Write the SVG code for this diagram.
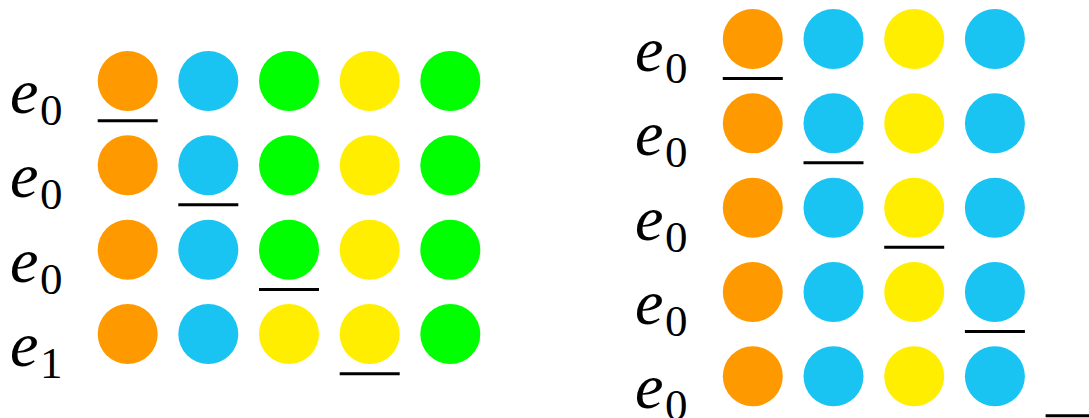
<svg xmlns="http://www.w3.org/2000/svg" width="1089" height="418" viewBox="0 0 1089 418">
<style>
.o{fill:#FF9900}.b{fill:#19C3F2}.g{fill:#00FF00}.y{fill:#FFEE00}
.u{stroke:#000;stroke-width:3}
</style>
<rect width="1089" height="418" fill="#fff"/>
<g id="left">
<g id="L1"><text x="10" y="113" font-family="Liberation Serif" font-size="64" font-style="italic">e</text><text x="40" y="125" font-family="Liberation Serif" font-size="45">0</text>
<circle class="o" cx="127.7" cy="81" r="30"/><circle class="b" cx="208.3" cy="81" r="30"/><circle class="g" cx="289" cy="81" r="30"/><circle class="y" cx="369.7" cy="81" r="30"/><circle class="g" cx="450.3" cy="81" r="30"/></g>
<g id="L2"><text x="10" y="197.3" font-family="Liberation Serif" font-size="64" font-style="italic">e</text><text x="40" y="209.3" font-family="Liberation Serif" font-size="45">0</text>
<circle class="o" cx="127.7" cy="165.3" r="30"/><circle class="b" cx="208.3" cy="165.3" r="30"/><circle class="g" cx="289" cy="165.3" r="30"/><circle class="y" cx="369.7" cy="165.3" r="30"/><circle class="g" cx="450.3" cy="165.3" r="30"/></g>
<g id="L3"><text x="10" y="281.7" font-family="Liberation Serif" font-size="64" font-style="italic">e</text><text x="40" y="293.7" font-family="Liberation Serif" font-size="45">0</text>
<circle class="o" cx="127.7" cy="249.7" r="30"/><circle class="b" cx="208.3" cy="249.7" r="30"/><circle class="g" cx="289" cy="249.7" r="30"/><circle class="y" cx="369.7" cy="249.7" r="30"/><circle class="g" cx="450.3" cy="249.7" r="30"/></g>
<g id="L4"><text x="10" y="366" font-family="Liberation Serif" font-size="64" font-style="italic">e</text><text x="40" y="378" font-family="Liberation Serif" font-size="45">1</text>
<circle class="o" cx="127.7" cy="334" r="30"/><circle class="b" cx="208.3" cy="334" r="30"/><circle class="y" cx="289" cy="334" r="30"/><circle class="y" cx="369.7" cy="334" r="30"/><circle class="g" cx="450.3" cy="334" r="30"/></g>
</g>
<g id="right">
<g id="R1"><text x="635" y="71" font-family="Liberation Serif" font-size="64" font-style="italic">e</text><text x="665" y="83" font-family="Liberation Serif" font-size="45">0</text>
<circle class="o" cx="752.8" cy="39" r="30"/><circle class="b" cx="833.5" cy="39" r="30"/><circle class="y" cx="914.2" cy="39" r="30"/><circle class="b" cx="994.9" cy="39" r="30"/></g>
<g id="R2"><text x="635" y="155.3" font-family="Liberation Serif" font-size="64" font-style="italic">e</text><text x="665" y="167.3" font-family="Liberation Serif" font-size="45">0</text>
<circle class="o" cx="752.8" cy="123.3" r="30"/><circle class="b" cx="833.5" cy="123.3" r="30"/><circle class="y" cx="914.2" cy="123.3" r="30"/><circle class="b" cx="994.9" cy="123.3" r="30"/></g>
<g id="R3"><text x="635" y="239.7" font-family="Liberation Serif" font-size="64" font-style="italic">e</text><text x="665" y="251.7" font-family="Liberation Serif" font-size="45">0</text>
<circle class="o" cx="752.8" cy="207.7" r="30"/><circle class="b" cx="833.5" cy="207.7" r="30"/><circle class="y" cx="914.2" cy="207.7" r="30"/><circle class="b" cx="994.9" cy="207.7" r="30"/></g>
<g id="R4"><text x="635" y="324" font-family="Liberation Serif" font-size="64" font-style="italic">e</text><text x="665" y="336" font-family="Liberation Serif" font-size="45">0</text>
<circle class="o" cx="752.8" cy="292" r="30"/><circle class="b" cx="833.5" cy="292" r="30"/><circle class="y" cx="914.2" cy="292" r="30"/><circle class="b" cx="994.9" cy="292" r="30"/></g>
<g id="R5"><text x="635" y="408.3" font-family="Liberation Serif" font-size="64" font-style="italic">e</text><text x="665" y="420.3" font-family="Liberation Serif" font-size="45">0</text>
<circle class="o" cx="752.8" cy="376.3" r="30"/><circle class="b" cx="833.5" cy="376.3" r="30"/><circle class="y" cx="914.2" cy="376.3" r="30"/><circle class="b" cx="994.9" cy="376.3" r="30"/></g>
</g>
<g id="connectors">
<line class="u" x1="97.7" y1="120.7" x2="157.7" y2="120.7"/>
<line class="u" x1="178.3" y1="204.8" x2="238.3" y2="204.8"/>
<line class="u" x1="259" y1="289.5" x2="319" y2="289.5"/>
<line class="u" x1="339.7" y1="373.8" x2="399.7" y2="373.8"/>
<line class="u" x1="722.8" y1="78.5" x2="782.8" y2="78.5"/>
<line class="u" x1="803.5" y1="162.8" x2="863.5" y2="162.8"/>
<line class="u" x1="884.2" y1="247.2" x2="944.2" y2="247.2"/>
<line class="u" x1="964.9" y1="331.5" x2="1024.9" y2="331.5"/>
<line class="u" x1="1045.6" y1="415.8" x2="1105.6" y2="415.8"/>
</g>
</svg>
